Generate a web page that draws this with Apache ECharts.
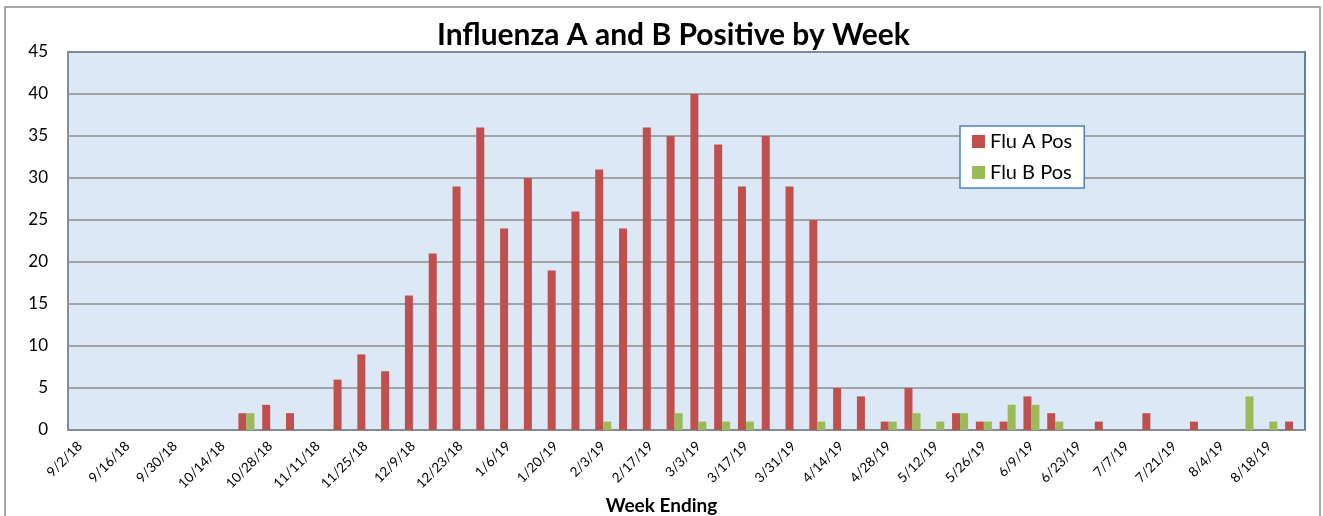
<!DOCTYPE html>
<html>
<head>
<meta charset="utf-8">
<script src="https://cdn.jsdelivr.net/npm/echarts@6/dist/echarts.min.js"></script>
<style>
  html, body { margin: 0; padding: 0; background: #fff; }
  #chart { width: 1323px; height: 516px; }
</style>
</head>
<body>
<div id="chart"></div>
<script>
// week ending dates
var weeks = ['9/2/18', '9/9/18', '9/16/18', '9/23/18', '9/30/18', '10/7/18', '10/14/18', '10/21/18',
  '10/28/18', '11/4/18', '11/11/18', '11/18/18', '11/25/18', '12/2/18', '12/9/18', '12/16/18',
  '12/23/18', '12/30/18', '1/6/19', '1/13/19', '1/20/19', '1/27/19', '2/3/19', '2/10/19',
  '2/17/19', '2/24/19', '3/3/19', '3/10/19', '3/17/19', '3/24/19', '3/31/19', '4/7/19',
  '4/14/19', '4/21/19', '4/28/19', '5/5/19', '5/12/19', '5/19/19', '5/26/19', '6/2/19',
  '6/9/19', '6/16/19', '6/23/19', '6/30/19', '7/7/19', '7/14/19', '7/21/19', '7/28/19',
  '8/4/19', '8/11/19', '8/18/19', '8/25/19'];

var fluA = [0, 0, 0, 0, 0, 0, 0, 2, 3, 2, 0, 6, 9, 7, 16, 21,
  29, 36, 24, 30, 19, 26, 31, 24, 36, 35, 40, 34, 29, 35, 29, 25,
  5, 4, 1, 5, 0, 2, 1, 1, 4, 2, 0, 1, 0, 2, 0, 1,
  0, 0, 0, 1];

var fluB = [0, 0, 0, 0, 0, 0, 0, 2, 0, 0, 0, 0, 0, 0, 0, 0,
  0, 0, 0, 0, 0, 0, 1, 0, 0, 2, 1, 1, 1, 0, 0, 1,
  0, 0, 1, 2, 1, 2, 1, 3, 3, 1, 0, 0, 0, 0, 0, 0,
  0, 4, 1, 0];

var font = 'Lato, "Open Sans", sans-serif';

var myChart = echarts.init(document.getElementById('chart'));

var option = {
  animation: false,
  backgroundColor: '#fff',
  title: [
    {
      text: 'Influenza A and B Positive by Week',
      left: 432,
      top: 15,
      textStyle: { fontFamily: font, fontSize: 30, fontWeight: 'bold', color: '#000' }
    },
    {
      text: 'Week Ending',
      left: 'center',
      top: 491,
      textStyle: { fontFamily: font, fontSize: 19, fontWeight: 'bold', color: '#000' }
    }
  ],
  graphic: [
    {
      type: 'rect',
      shape: { x: 5, y: 7, width: 1315, height: 530 },
      style: { fill: 'none', stroke: '#8c8c8c', lineWidth: 1.5 },
      silent: true
    }
  ],
  legend: {
    data: ['Flu A Pos', 'Flu B Pos'],
    orient: 'vertical',
    left: 960,
    top: 126,
    padding: [5, 12, 5, 12],
    itemGap: 10,
    itemWidth: 13,
    itemHeight: 13,
    icon: 'rect',
    backgroundColor: '#fff',
    borderColor: '#4f81bd',
    borderWidth: 1.5,
    textStyle: { fontFamily: font, fontSize: 20, color: '#000', lineHeight: 21 }
  },
  grid: {
    left: 68,
    right: 18,
    top: 52,
    bottom: 86,
    show: true,
    backgroundColor: '#dce8f5',
    borderColor: '#4f81bd',
    borderWidth: 2
  },
  xAxis: {
    type: 'category',
    data: weeks,
    axisLine: { lineStyle: { color: '#868b94', width: 2 } },
    axisTick: { show: false },
    axisLabel: {
      interval: 1,
      rotate: 45,
      margin: 14,
      fontFamily: font,
      fontSize: 13.5,
      color: '#000'
    }
  },
  yAxis: {
    type: 'value',
    min: 0,
    max: 45,
    interval: 5,
    axisLine: { show: true, lineStyle: { color: '#868b94', width: 2 } },
    axisTick: { show: false },
    axisLabel: { fontFamily: font, fontSize: 17, color: '#000', margin: 20 },
    splitLine: { lineStyle: { color: '#8c8c8c', width: 1.5 } }
  },
  series: [
    {
      name: 'Flu A Pos',
      type: 'bar',
      data: fluA,
      barWidth: 8,
      barGap: '0%',
      itemStyle: { color: '#c0504d' }
    },
    {
      name: 'Flu B Pos',
      type: 'bar',
      data: fluB,
      barWidth: 8,
      itemStyle: { color: '#9bbb59' }
    }
  ]
};

myChart.setOption(option);
</script>
</body>
</html>
